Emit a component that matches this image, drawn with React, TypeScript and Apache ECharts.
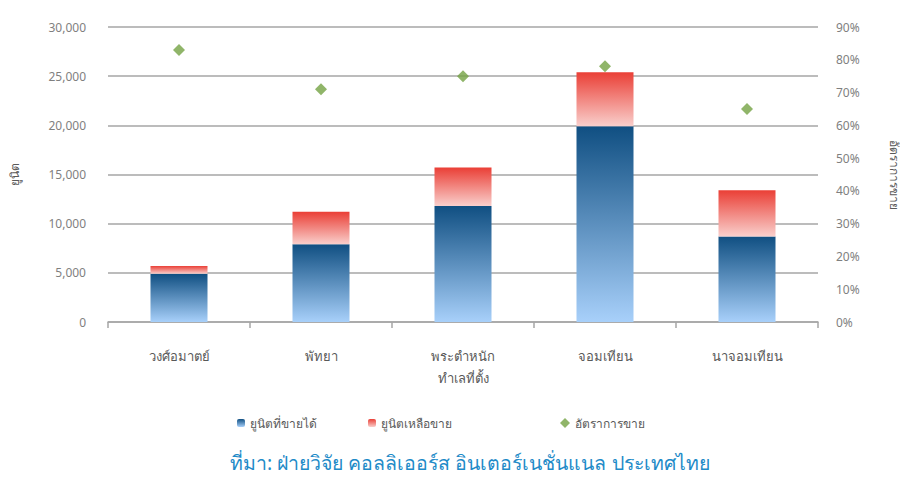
import React, { useEffect, useRef } from "react";
import * as echarts from "echarts";

const categories = ["วงศ์อมาตย์", "พัทยา", "พระตำหนัก\nทำเลที่ตั้ง", "จอมเทียน", "นาจอมเทียน"];
const soldUnits = [4900, 7900, 11800, 19900, 8700];
const remainingUnits = [800, 3300, 3900, 5500, 4700];
const salesRate = [83, 71, 75, 78, 65];
const leftTicks = [0, 5000, 10000, 15000, 20000, 25000, 30000];

const SOLD = "ยูนิตที่ขายได้";
const LEFT = "ยูนิตเหลือขาย";
const RATE = "อัตราการขาย";

const FONT = "Tahoma, 'Noto Sans', 'DejaVu Sans', sans-serif";

export default function App() {
  const ref = useRef<HTMLDivElement>(null);

  useEffect(() => {
    if (!ref.current) return;
    const chart = echarts.init(ref.current, null, { renderer: "svg" });
    const blue = new echarts.graphic.LinearGradient(0, 0, 0, 1, [
      { offset: 0, color: "#104f82" },
      { offset: 1, color: "#a8d0fa" },
    ]);
    const red = new echarts.graphic.LinearGradient(0, 0, 0, 1, [
      { offset: 0, color: "#ea3f36" },
      { offset: 1, color: "#f9cfcc" },
    ]);
    const legendText = { color: "#595959", fontSize: 12, fontFamily: FONT };
    chart.setOption({
      animation: false,
      backgroundColor: "#ffffff",
      textStyle: { fontFamily: FONT },
      grid: { left: 106, right: 88, top: 27, bottom: 161 },
      legend: [
        { data: [SOLD], left: 232, top: 412, itemWidth: 8, itemHeight: 8, textStyle: legendText },
        { data: [LEFT], left: 363, top: 412, itemWidth: 8, itemHeight: 8, textStyle: legendText },
        {
          data: [{ name: RATE, icon: "diamond" }],
          left: 555, top: 412, itemWidth: 10, itemHeight: 10, textStyle: legendText,
        },
      ],
      xAxis: {
        type: "category",
        data: categories,
        axisLine: { show: true, lineStyle: { color: "#a6a6a6", width: 1.5 } },
        axisTick: { show: true, length: 6, lineStyle: { color: "#a6a6a6", width: 1.5 } },
        axisLabel: { color: "#595959", fontSize: 13, margin: 23, lineHeight: 22 },
      },
      yAxis: [
        {
          type: "value",
          min: 0,
          max: 30000,
          interval: 5000,
          name: "ยูนิต",
          nameLocation: "middle",
          nameRotate: 90,
          nameGap: 88,
          nameTextStyle: { color: "#595959", fontSize: 12 },
          axisLine: { show: false },
          axisTick: { show: false },
          splitLine: { lineStyle: { color: "#a6a6a6", width: 1.5 } },
          axisLabel: {
            color: "#7f7f7f",
            fontSize: 12,
            margin: 22,
            formatter: (v: number) => (leftTicks.includes(v) ? v.toLocaleString("en-US") : ""),
          },
        },
        {
          type: "value",
          min: 0,
          max: 90,
          interval: 10,
          name: RATE,
          nameLocation: "middle",
          nameRotate: -90,
          nameGap: 70,
          nameTextStyle: { color: "#595959", fontSize: 12 },
          axisLine: { show: false },
          axisTick: { show: false },
          splitLine: { show: false },
          axisLabel: { color: "#7f7f7f", fontSize: 12, margin: 18, formatter: "{value}%" },
        },
      ],
      series: [
        {
          name: SOLD,
          type: "bar",
          stack: "units",
          barWidth: 57,
          data: soldUnits,
          itemStyle: { color: blue },
        },
        {
          name: LEFT,
          type: "bar",
          stack: "units",
          barWidth: 57,
          data: remainingUnits,
          itemStyle: { color: red },
        },
        {
          name: RATE,
          type: "scatter",
          yAxisIndex: 1,
          symbol: "diamond",
          symbolSize: 12,
          data: salesRate,
          itemStyle: { color: "#74a344" },
        },
      ],
      graphic: [
        {
          type: "text",
          left: 230,
          top: 452,
          style: {
            text: "ที่มา: ฝ่ายวิจัย คอลลิเออร์ส อินเตอร์เนชั่นแนล ประเทศไทย",
            fill: "#1f8bc8",
            fontSize: 19.5,
            fontFamily: FONT,
          },
        },
      ],
    });
    return () => chart.dispose();
  }, []);

  return <div ref={ref} style={{ width: 908, height: 483, margin: -8 }} />;
}
